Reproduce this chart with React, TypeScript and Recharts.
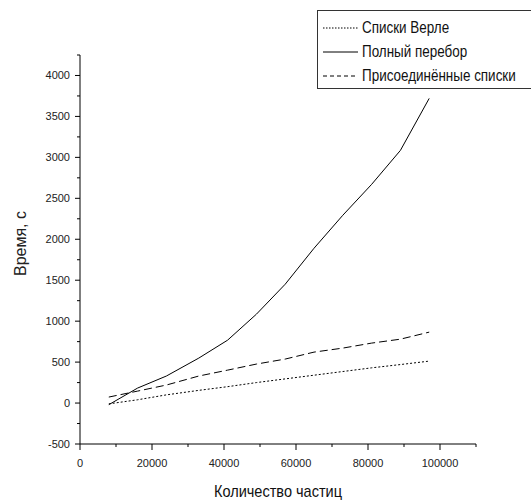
import { LineChart, Line, XAxis, YAxis, Legend } from "recharts"

// число частиц и время расчёта (с)
const particles = [8000, 16000, 24000, 33000, 41000, 49000, 57000, 65000, 73000, 81000, 89000, 97000]
const verlet = [-10, 40, 100, 155, 200, 250, 295, 340, 385, 430, 470, 512]
const fullSearch = [-20, 183, 330, 549, 768, 1085, 1451, 1890, 2293, 2670, 3085, 3720]
const linked = [73, 146, 220, 330, 402, 476, 537, 622, 671, 732, 780, 866]

const xTicks = [0, 10000, 20000, 30000, 40000, 50000, 60000, 70000, 80000, 90000, 100000, 110000]
const yTicks = [-500, -250, 0, 250, 500, 750, 1000, 1250, 1500, 1750, 2000, 2250, 2500, 2750, 3000, 3250, 3500, 3750, 4000, 4250]

const seriesOrder = ["verlet", "full", "linked"]
const seriesNames = { verlet: "Списки Верле", full: "Полный перебор", linked: "Присоединённые списки" }
const dashes: Record<string, string | undefined> = { verlet: "2 2", full: undefined, linked: "8 4" }
const legendDashes: Record<string, string | undefined> = { verlet: "1.5 1.5", full: undefined, linked: "4 3" }

const data = particles.map((n, i) => ({ n, verlet: verlet[i], full: fullSearch[i], linked: linked[i] }))

const tickFont = "'Liberation Sans', Arial, sans-serif"
// recharts places custom ticks at tickSize (6) + tickMargin (2) from the axis line
const TICK_GAP = 8

function XTick(props: any) {
  const x = Number(props.x)
  const y = Number(props.y) - TICK_GAP
  const v = props.payload.value
  const major = v % 20000 === 0 && v <= 100000
  return (
    <g>
      <path d={`M${x},${y}V${y + (major ? 6 : 3)}`} stroke="#000" strokeWidth={1} fill="none" />
      {major && (
        <text x={x} y={y + 23} textAnchor="middle" fontSize={11} fontFamily={tickFont} fill="#222">
          {v}
        </text>
      )}
    </g>
  )
}

function YTick(props: any) {
  const x = Number(props.x) + TICK_GAP
  const y = Number(props.y)
  const v = props.payload.value
  const major = v % 500 === 0 && v <= 4000
  return (
    <g>
      <path d={`M${x},${y}H${x - (major ? 5 : 3)}`} stroke="#000" strokeWidth={1} fill="none" />
      {major && (
        <text x={x - 10} y={y + 4} textAnchor="end" fontSize={11} fontFamily={tickFont} fill="#222">
          {v}
        </text>
      )}
    </g>
  )
}

function LegendBox({ payload }: any) {
  const items = [...(payload || [])].sort(
    (a: any, b: any) => seriesOrder.indexOf(a.dataKey) - seriesOrder.indexOf(b.dataKey)
  )
  return (
    <div
      style={{
        border: "1px solid #333",
        background: "#fff",
        width: 225,
        padding: "5px 0 0 5px",
        fontFamily: tickFont,
        fontSize: 16,
        color: "#111",
      }}
    >
      {items.map((entry: any) => (
        <div key={entry.dataKey} style={{ display: "flex", alignItems: "center", height: 24, whiteSpace: "nowrap" }}>
          <svg width={35} height={10} style={{ marginRight: 4 }}>
            <line x1={0} y1={5} x2={35} y2={5} stroke="#000" strokeDasharray={legendDashes[entry.dataKey]} />
          </svg>
          <span style={{ display: "inline-block", transform: "scaleX(0.84)", transformOrigin: "left center" }}>
            {entry.value}
          </span>
        </div>
      ))}
    </div>
  )
}

export default function App() {
  return (
    <div style={{ position: "absolute", left: 0, top: 0, width: 531, height: 504, background: "#fff", overflow: "hidden" }}>
      <LineChart width={531} height={504} data={data} margin={{ top: 55, right: 55, left: 0, bottom: 0 }}>
        <XAxis
          dataKey="n"
          type="number"
          domain={[0, 110000]}
          ticks={xTicks}
          interval={0}
          height={60}
          axisLine={{ stroke: "#000", strokeWidth: 1 }}
          tickLine={false}
          tick={<XTick />}
          label={{
            content: ({ viewBox }: any) => {
              const cx = viewBox.x + viewBox.width / 2
              const cy = viewBox.y + viewBox.height - 7
              return (
                <text x={cx} y={cy} textAnchor="middle" fontFamily={tickFont} fontSize={17} fill="#111"
                  textLength={128} lengthAdjust="spacingAndGlyphs">
                  Количество частиц
                </text>
              )
            },
          }}
        />
        <YAxis
          type="number"
          domain={[-500, 4250]}
          ticks={yTicks}
          interval={0}
          width={80}
          axisLine={{ stroke: "#000", strokeWidth: 1 }}
          tickLine={false}
          tick={<YTick />}
          label={{
            content: ({ viewBox }: any) => {
              const cx = viewBox.x + 20
              const cy = viewBox.y + viewBox.height / 2 - 6
              return (
                <text
                  x={cx}
                  y={cy}
                  transform={`rotate(-90 ${cx} ${cy})`}
                  textAnchor="middle"
                  dominantBaseline="central"
                  fontFamily={tickFont}
                  fontSize={16}
                  fill="#222"
                >
                  Время, с
                </text>
              )
            },
          }}
        />
        <Legend
          layout="vertical"
          align="center"
          verticalAlign="middle"
          wrapperStyle={{ top: 10, left: 317, width: 230 }}
          content={<LegendBox />}
        />
        <Line dataKey="verlet" name={seriesNames.verlet} stroke="#000" strokeWidth={1} strokeDasharray={dashes.verlet} dot={false} type="linear" isAnimationActive={false} />
        <Line dataKey="full" name={seriesNames.full} stroke="#000" strokeWidth={1} dot={false} type="linear" isAnimationActive={false} />
        <Line dataKey="linked" name={seriesNames.linked} stroke="#000" strokeWidth={1} strokeDasharray={dashes.linked} dot={false} type="linear" isAnimationActive={false} />
      </LineChart>
    </div>
  )
}
